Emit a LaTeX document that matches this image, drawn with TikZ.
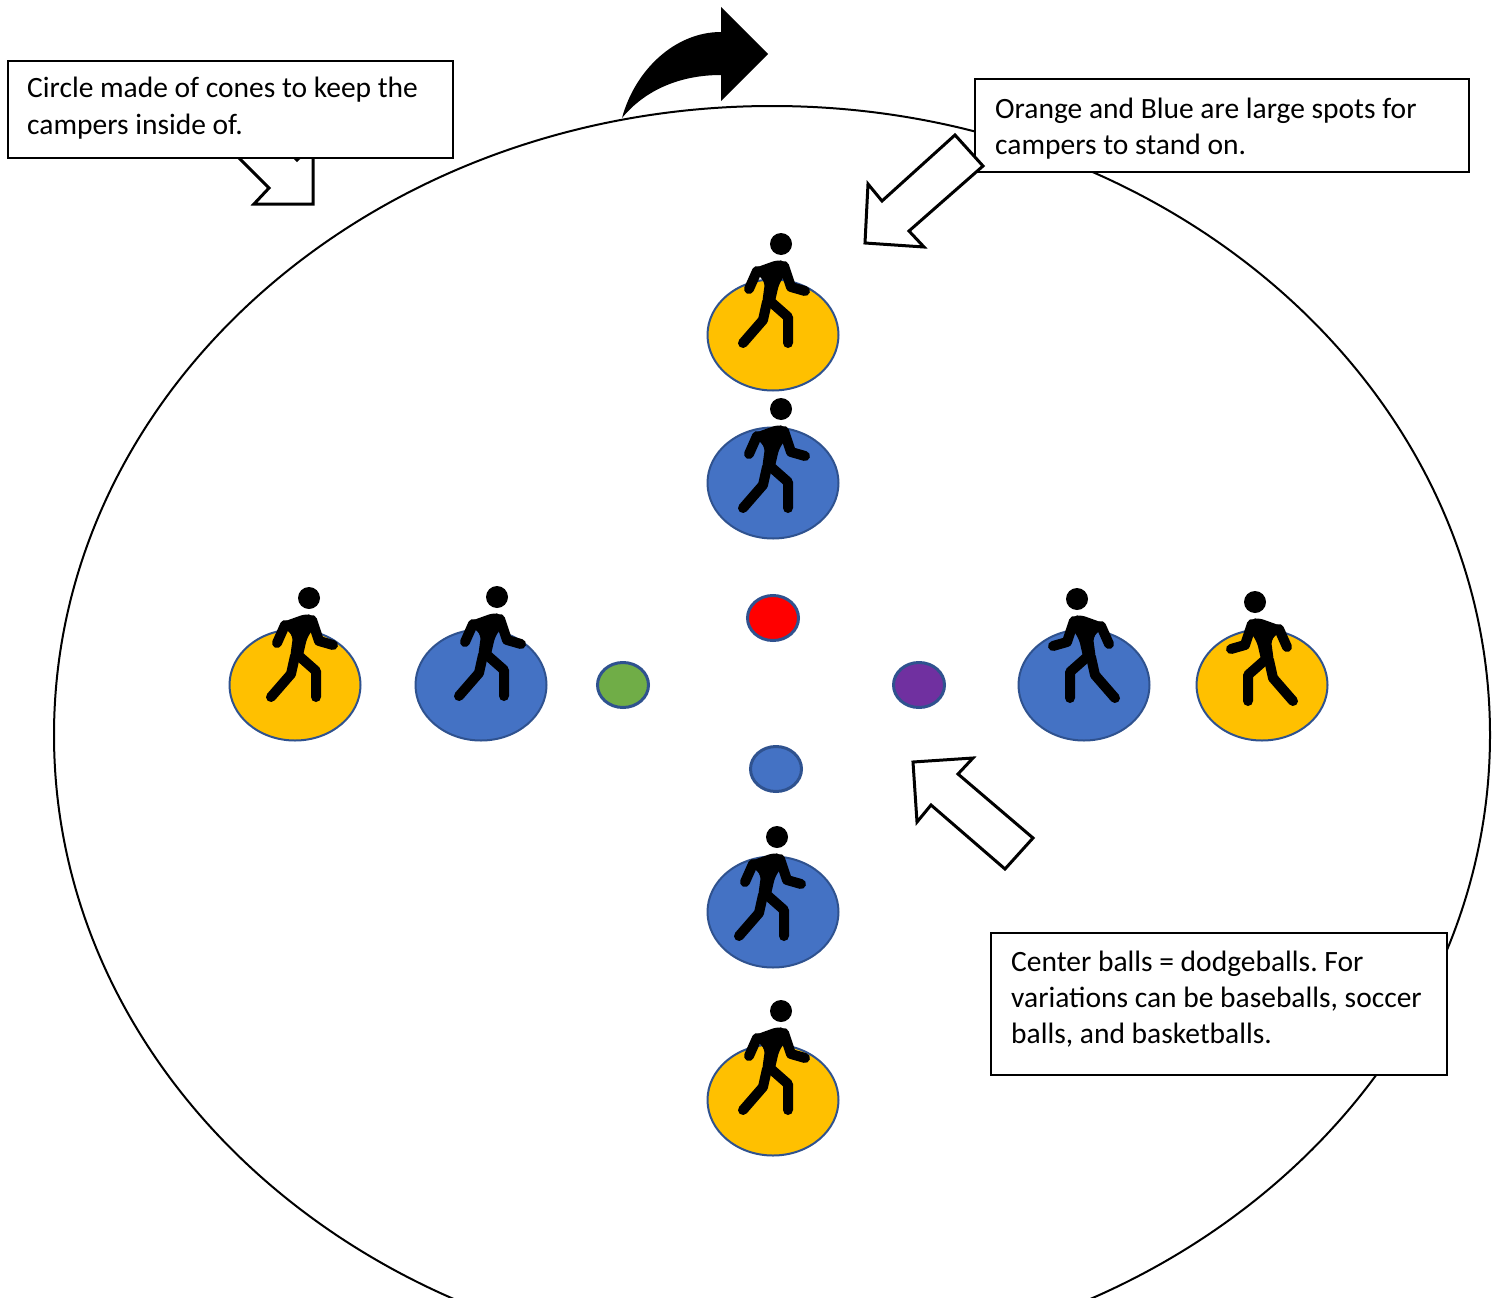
\documentclass[tikz,border=0pt]{standalone}
\usepackage{fontspec}
\setmainfont{Carlito}
\frenchspacing
\usetikzlibrary{shapes.geometric}
\definecolor{spotblue}{HTML}{4472C4}
\definecolor{spotorange}{HTML}{FFC000}
\definecolor{spotedge}{HTML}{2F528F}
\definecolor{ballgreen}{HTML}{70AD47}
\definecolor{ballpurple}{HTML}{7030A0}
\definecolor{ballred}{HTML}{FF0000}
\tikzset{
  spot/.style={ellipse, draw=spotedge, line width=2, minimum width=131, minimum height=111, inner sep=0},
  ball/.style={ellipse, draw=spotedge, line width=3, minimum width=51, minimum height=45, inner sep=0},
  box/.style={draw=black, line width=1.6, fill=white, rectangle, anchor=north west, inner sep=0},
  txt/.style={align=left, anchor=base west, inner sep=0, font=\fontsize{29.5}{36}\selectfont},
  blockarrow/.style={draw=black, fill=white, line width=3, line join=miter},
  limb/.style={line width=10, line cap=round, line join=round},
  walker/.pic={
    \fill (0,0) circle (11);
    \fill[rounded corners=5] (-29,25) -- (-4,16) -- (4,17) -- (8,25) -- (-2,40) -- (-7,62) -- (-19,60) -- (-16,38) -- cycle;
    \draw[limb] (-24,27) -- (-32,45);
    \draw[limb] (3,22) -- (10,43) -- (24,47);
    \draw[limb] (-14,58) -- (-18,76) -- (-38,99);
    \draw[limb] (-10,58) -- (7,73) -- (7,99);
  }
}
\begin{document}
\begin{tikzpicture}[x=1pt, y=-1pt]
\useasboundingbox (0,0) rectangle (1497,1298);
\clip (0,0) rectangle (1497,1298);
\fill[white] (0,0) rectangle (1497,1298);
% field boundary
\draw[line width=2] (772,735) ellipse [x radius=718, y radius=629];
% curved arrow at top
\fill[black] (622,118) .. controls (635,70) and (675,32) .. (721,32) -- (721,7) -- (768,54) -- (721,101) -- (721,75) .. controls (680,75) and (645,90) .. (622,118) -- cycle;
% arrow behind box 1
\draw[blockarrow] (217,80) -- (297,160) -- (313,145) -- (313,204) -- (254,204) -- (269,188) -- (189,108) -- cycle;
% callout boxes
\node[box, minimum width=445, minimum height=97] (box1) at (7,60) {};
\node[txt] (t1) at (27,134) {Circle made of cones to keep the\\campers inside of.};
\node[box, minimum width=494, minimum height=93] (box2) at (974,78) {};
\node[txt] (t2) at (995,154) {Orange and Blue are large spots for\\campers to stand on.};
\draw[blockarrow] (955,135) -- (882,201) -- (868,184) -- (865,243) -- (924,247) -- (909,231) -- (983,166) -- cycle;
\draw[blockarrow] (913,762) -- (973,758) -- (958,774) -- (1033,838) -- (1005,869) -- (931,805) -- (917,822) -- cycle;
\node[box, minimum width=456, minimum height=142] (box3) at (990,932) {};
\node[txt] (t3) at (1011,1043) {Center balls = dodgeballs. For\\variations can be baseballs, soccer\\balls, and basketballs.};
% spots
\node[spot, fill=spotorange] (so1) at (773,335) {};
\node[spot, fill=spotblue] (sb1) at (773,483) {};
\node[spot, fill=spotorange] (so2) at (295,685) {};
\node[spot, fill=spotblue] (sb2) at (481,685) {};
\node[spot, fill=spotblue] (sb3) at (1084,685) {};
\node[spot, fill=spotorange] (so3) at (1262,685) {};
\node[spot, fill=spotblue] (sb4) at (773,912) {};
\node[spot, fill=spotorange] (so4) at (773,1100) {};
% balls
\node[ball, fill=ballred] (ball1) at (773,618) {};
\node[ball, fill=ballgreen] (ball2) at (623,685) {};
\node[ball, fill=ballpurple] (ball3) at (919,685) {};
\node[ball, fill=spotblue] (ball4) at (776,769) {};
% campers
\pic at (781,244) {walker};
\pic at (781,409) {walker};
\pic at (309,598) {walker};
\pic at (497,597) {walker};
\pic[xscale=-1] at (1077,599) {walker};
\pic[xscale=-1] at (1255,602) {walker};
\pic at (777,837) {walker};
\pic at (781,1011) {walker};
\end{tikzpicture}
\end{document}
